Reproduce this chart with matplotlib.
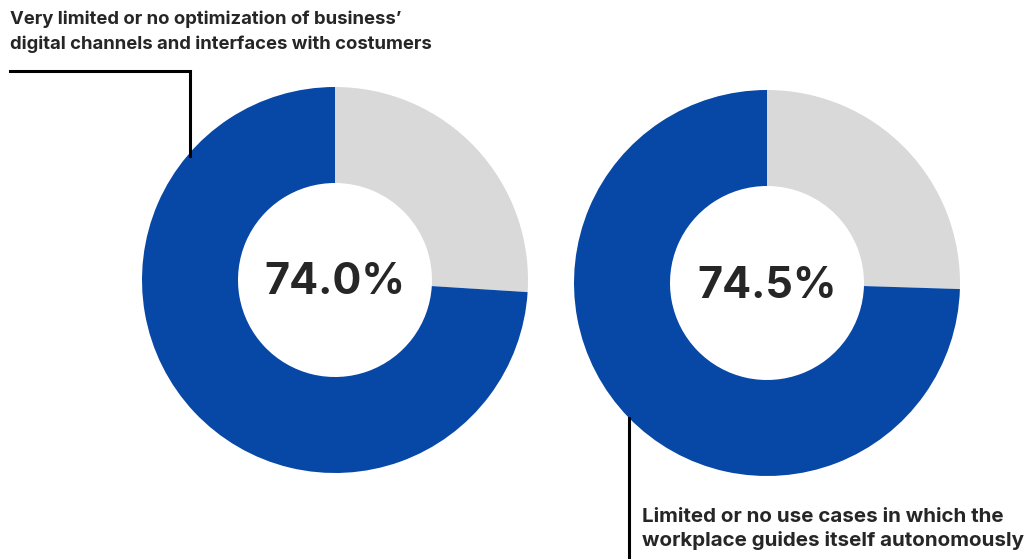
import matplotlib
matplotlib.use("Agg")
import matplotlib.pyplot as plt

# Share of respondents in each statement
labels = ["Very limited or no optimization of business\u2019\ndigital channels and interfaces with costumers",
          "Limited or no use cases in which the\nworkplace guides itself autonomously"]
shares = [74.0, 74.5]
value_texts = ["74.0%", "74.5%"]

BLUE = "#0747a6"
GRAY = "#d9d9d9"
INK = "#262626"
FONT = ["Inter", "DejaVu Sans"]

W, H = 1035, 559
fig = plt.figure(figsize=(W / 100, H / 100), dpi=100)
ax = fig.add_axes([0, 0, 1, 1])

centers = [(335, H - 280), (767, H - 283)]
R, RING = 193, 96

for (cx, cy), share, txt in zip(centers, shares, value_texts):
    ax.pie([100 - share, share], colors=[GRAY, BLUE], startangle=90,
           counterclock=False, center=(cx, cy), radius=R,
           wedgeprops=dict(width=RING, linewidth=0), frame=True)
    ax.text(cx, cy - 3, txt, ha="center", va="center", fontsize=31,
            fontweight="bold", color=INK, family=FONT)

ax.set_xlim(0, W)
ax.set_ylim(0, H)
ax.set_aspect("auto")
ax.axis("off")

# callout text and leader lines
ax.text(10, H - 10, labels[0], ha="left", va="top", fontsize=13.3,
        fontweight="bold", color=INK, family=FONT, linespacing=1.6)
ax.plot([10, 190, 190], [H - 71, H - 71, H - 156], color="black", lw=2.2,
        solid_joinstyle="miter")

ax.text(642, H - 508, labels[1], ha="left", va="top", fontsize=14.8,
        fontweight="bold", color=INK, family=FONT, linespacing=1.35)
ax.plot([629, 629], [H - 418, 0], color="black", lw=2.2)

fig.savefig("out.png", dpi=100, facecolor="white")
